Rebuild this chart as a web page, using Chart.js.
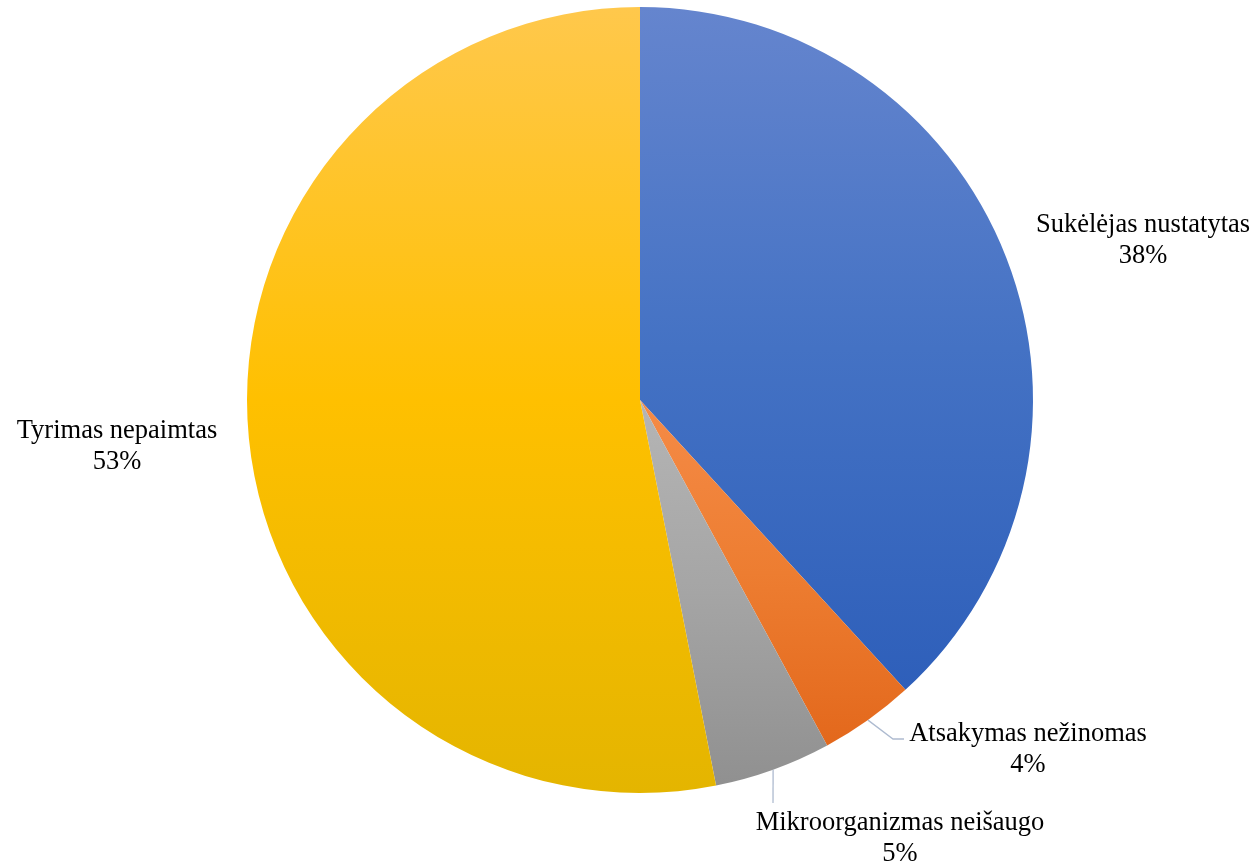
<!DOCTYPE html>
<html>
<head>
<meta charset="utf-8">
<script src="https://cdn.jsdelivr.net/npm/chart.js@4.4.1/dist/chart.umd.min.js"></script>
<style>
  html, body { margin: 0; padding: 0; background: #ffffff; }
  canvas { display: block; }
</style>
</head>
<body>
<canvas id="c" width="1257" height="864"></canvas>
<script>
// ---- data ----
const categories = ['Sukėlėjas nustatytas', 'Atsakymas nežinomas', 'Mikroorganizmas neišaugo', 'Tyrimas nepaimtas'];
const values = [38.2, 3.9, 4.8, 53.1];
const percentLabels = ['38%', '4%', '5%', '53%'];

// ---- styles ----
const gradientStops = [
  ['#6585ce', '#4472c4', '#2e5fba'],
  ['#f58b47', '#ed7d31', '#e3681c'],
  ['#b5b5b5', '#a5a5a5', '#909090'],
  ['#ffc84c', '#ffc000', '#e4b500']
];

function sliceGeometry(chart, index) {
  const area = chart.chartArea;
  const cx = (area.left + area.right) / 2;
  const cy = (area.top + area.bottom) / 2;
  const r = Math.min(area.right - area.left, area.bottom - area.top) / 2;
  const total = values.reduce((a, b) => a + b, 0);
  let start = -Math.PI / 2;
  for (let i = 0; i < index; i++) start += values[i] / total * Math.PI * 2;
  const end = start + values[index] / total * Math.PI * 2;
  return { cx, cy, r, start, end };
}

function sliceYRange(g) {
  const ys = [g.cy, g.cy + g.r * Math.sin(g.start), g.cy + g.r * Math.sin(g.end)];
  for (const a of [-Math.PI / 2, Math.PI / 2, 3 * Math.PI / 2]) {
    if (a >= g.start && a <= g.end) ys.push(g.cy + g.r * Math.sin(a));
  }
  return [Math.min(...ys), Math.max(...ys)];
}

function sliceFill(ctx) {
  const chart = ctx.chart;
  const i = ctx.dataIndex;
  const stops = gradientStops[i];
  if (!chart.chartArea || i === undefined) return stops[1];
  const g = sliceGeometry(chart, i);
  const [y0, y1] = sliceYRange(g);
  const grad = chart.ctx.createLinearGradient(0, y0, 0, y1);
  grad.addColorStop(0, stops[0]);
  grad.addColorStop(0.5, stops[1]);
  grad.addColorStop(1, stops[2]);
  return grad;
}

const labelPlugin = {
  id: 'sliceLabels',
  afterDatasetsDraw(chart, args, opts) {
    const c = chart.ctx;
    c.save();
    c.strokeStyle = opts.leaderColor;
    c.lineWidth = 1.3;
    opts.leaders.forEach((pts, i) => {
      if (!pts) return;
      const g = sliceGeometry(chart, i);
      const mid = (g.start + g.end) / 2;
      const sx = g.cx + g.r * Math.cos(mid);
      const sy = g.cy + g.r * Math.sin(mid);
      c.beginPath();
      c.moveTo(sx, sy);
      pts.forEach(p => c.lineTo(p[0], p[1]));
      c.stroke();
    });
    c.fillStyle = '#000000';
    c.font = opts.font;
    c.textAlign = 'center';
    c.textBaseline = 'alphabetic';
    categories.forEach((name, i) => {
      const p = opts.positions[i];
      c.fillText(name, p.x, p.y);
      c.fillText(percentLabels[i], p.x, p.y + opts.lineHeight);
    });
    c.restore();
  }
};

new Chart(document.getElementById('c'), {
  type: 'pie',
  data: {
    labels: categories,
    datasets: [{
      data: values,
      backgroundColor: sliceFill,
      borderWidth: 0
    }]
  },
  options: {
    responsive: false,
    animation: false,
    layout: { padding: { left: 247, right: 224, top: 7, bottom: 71 } },
    plugins: {
      legend: { display: false },
      tooltip: { enabled: false },
      sliceLabels: {
        font: '26.5px "Liberation Serif", "Times New Roman", serif',
        lineHeight: 31.5,
        leaderColor: '#aebbd0',
        positions: [
          { x: 1143, y: 231.5 },
          { x: 1028, y: 740.5 },
          { x: 900, y: 829.5 },
          { x: 117, y: 437.5 }
        ],
        leaders: [
          null,
          [[893, 739], [904, 739]],
          [[773, 803]],
          null
        ]
      }
    }
  },
  plugins: [labelPlugin]
});
</script>
</body>
</html>
